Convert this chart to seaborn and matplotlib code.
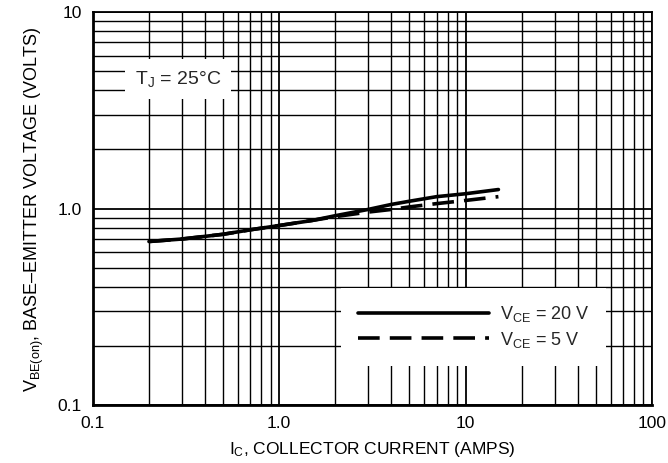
import numpy as np
import pandas as pd
import matplotlib
matplotlib.use("Agg")
import matplotlib.pyplot as plt
import seaborn as sns

# collector current (A) and base-emitter voltage (V)
ic = [0.2, 0.3, 0.5, 0.7, 1.0, 1.5, 2.0, 3.0, 4.0, 5.0, 7.0, 10, 15]
vbe_20v = [0.68, 0.70, 0.74, 0.78, 0.82, 0.87, 0.92, 0.99, 1.05, 1.09, 1.15, 1.19, 1.25]
vbe_5v = [0.68, 0.70, 0.74, 0.78, 0.82, 0.87, 0.91, 0.96, 0.99, 1.02, 1.06, 1.10, 1.15]
x_ticks = [0.1, 1.0, 10, 100]
x_ticklabels = ["0.1", "1.0", "10", "100"]
y_ticks = [0.1, 1.0, 10]
y_ticklabels = ["0.1", "1.0", "10"]

sns.set_theme(style="white")
plt.rcParams['font.family'] = ['Liberation Sans Narrow', 'Liberation Sans', 'DejaVu Sans']
plt.rcParams['mathtext.fontset'] = 'custom'
plt.rcParams['mathtext.rm'] = 'Liberation Sans'
plt.rcParams['mathtext.it'] = 'Liberation Sans'

fig = plt.figure(figsize=(6.68, 4.63), dpi=100)
ax = fig.add_axes([0.139, 0.125, 0.837, 0.849])

df = pd.DataFrame({"ic": ic, "v20": vbe_20v, "v5": vbe_5v})
sns.lineplot(data=df, x="ic", y="v20", ax=ax, color="black", lw=2.6,
             label=r"V$_\mathregular{CE}$ = 20 V", zorder=5)
sns.lineplot(data=df, x="ic", y="v5", ax=ax, color="black", lw=2.6,
             linestyle=(0, (6, 2.8)), label=r"V$_\mathregular{CE}$ = 5 V", zorder=5)

ax.set_xscale("log")
ax.set_yscale("log")
ax.set_xlim(0.1, 100)
ax.set_ylim(0.1, 10)
ax.set_xticks(x_ticks)
ax.set_xticklabels(x_ticklabels)
ax.set_yticks(y_ticks)
ax.set_yticklabels(y_ticklabels)
ax.minorticks_on()
ax.tick_params(which="both", length=0, labelsize=12.5, colors="black", pad=8)
ax.tick_params(axis="x", which="minor", labelbottom=False)
ax.tick_params(axis="y", which="minor", labelleft=False)
ax.grid(True, which="major", color="black", lw=1.3)
ax.grid(True, which="minor", color="black", lw=1.0)
for s in ax.spines.values():
    s.set_color("black")
    s.set_linewidth(1.3)
ax.spines["left"].set_linewidth(2)
ax.spines["bottom"].set_linewidth(2)

ax.set_xlabel(r"I$_\mathregular{C}$, COLLECTOR CURRENT (AMPS)", fontsize=12.5, color="black", labelpad=6)
ax.set_ylabel(r"V$_\mathregular{BE(on)}$, BASE–EMITTER VOLTAGE (VOLTS)", fontsize=13, color="black", labelpad=8)

ax.text(0.152, 0.83, r"T$_\mathregular{J}$ = 25°C", transform=ax.transAxes, fontsize=14,
        ha="center", va="center", zorder=6,
        bbox=dict(facecolor="white", edgecolor="none", pad=7))

leg = ax.legend(loc="lower right", bbox_to_anchor=(0.918, 0.10), fontsize=13,
                handlelength=7.3, frameon=True, fancybox=False, framealpha=1,
                borderpad=0.9, labelspacing=0.3, handletextpad=0.6, borderaxespad=0)
leg.get_frame().set_edgecolor("none")
leg.get_frame().set_facecolor("white")
leg.set_zorder(7)

fig.savefig("out.png", dpi=100)
